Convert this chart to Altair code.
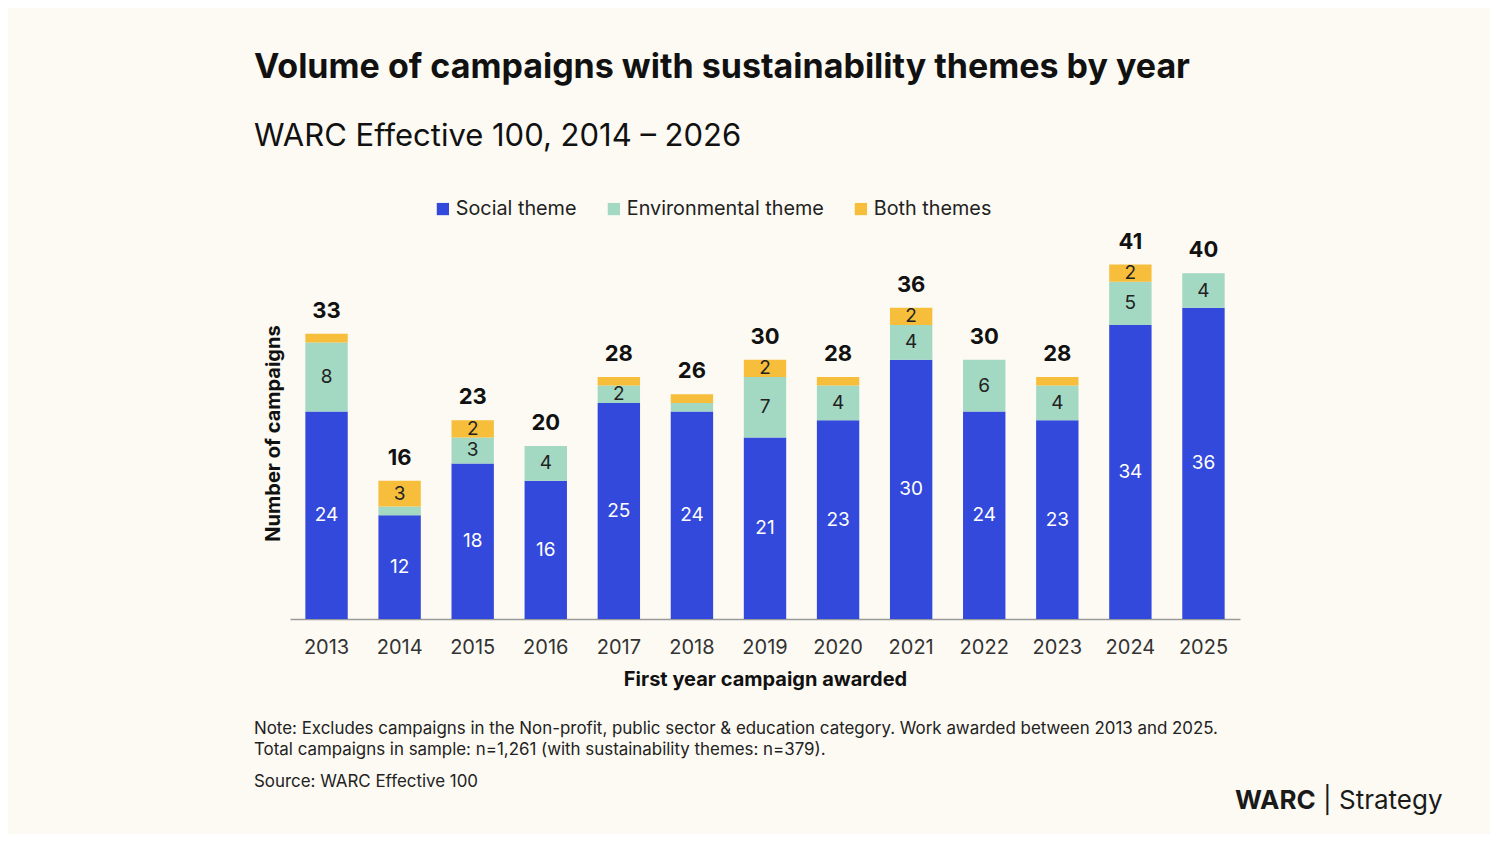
import altair as alt
import pandas as pd

# Campaign counts per award year
years = [str(y) for y in range(2013, 2026)]
social = [24, 12, 18, 16, 25, 24, 21, 23, 30, 24, 23, 34, 36]
environmental = [8, 1, 3, 4, 2, 1, 7, 4, 4, 6, 4, 5, 4]
both = [1, 3, 2, 0, 1, 1, 2, 1, 2, 0, 1, 2, 0]

themes = ["Social theme", "Environmental theme", "Both themes"]
colours = ["#3349DB", "#A3D8C2", "#F6BE3B"]

note_lines = [
    "Note: Excludes campaigns in the Non-profit, public sector & education category. Work awarded between 2013 and 2025.",
    "Total campaigns in sample: n=1,261 (with sustainability themes: n=379).",
]
source_line = "Source: WARC Effective 100"

FONT = "Inter"

rows = []
for i, yr in enumerate(years):
    for k, vals in enumerate([social, environmental, both]):
        rows.append({"year": yr, "theme": themes[k], "n": vals[i], "order": k})
df = pd.DataFrame(rows)

base = alt.Chart(df)
x_enc = alt.X(
    "year:N", sort=years,
    scale=alt.Scale(paddingInner=0.42, paddingOuter=0.21),
    axis=alt.Axis(
        title="First year campaign awarded", labelAngle=0, ticks=False,
        labelFontSize=20, labelColor="#333333", labelFont=FONT, labelPadding=18,
        domainColor="#9a9a9a", domainWidth=1.5,
        titleFontSize=20, titleFont=FONT, titleFontWeight="bold",
        titleColor="#111111", titlePadding=12,
    ),
)
y_scale = alt.Scale(domain=[0, 45])

bars = base.mark_bar().encode(
    x=x_enc,
    y=alt.Y(
        "sum(n):Q", stack="zero", scale=y_scale,
        axis=alt.Axis(
            title="Number of campaigns", labels=False, ticks=False, domain=False,
            grid=False, titleFontSize=20, titleFont=FONT, titleFontWeight="bold",
            titleColor="#111111", titlePadding=7, titleY=203,
        ),
    ),
    color=alt.Color(
        "theme:N", sort=themes, scale=alt.Scale(domain=themes, range=colours),
        legend=alt.Legend(
            title=None, orient="none", direction="horizontal",
            legendX=143, legendY=-31, symbolType="square", symbolSize=150,
            symbolStrokeWidth=0, labelFontSize=19.8, labelFont=FONT,
            labelColor="#222222", columnPadding=27, labelOffset=3, labelLimit=400,
        ),
    ),
    order=alt.Order("order:Q"),
)

seg_labels = base.transform_stack(
    stack="n", as_=["y0", "y1"], groupby=["year"],
    sort=[alt.SortField("order", order="ascending")],
).transform_calculate(
    mid="(datum.y0 + datum.y1) / 2"
).transform_filter(
    "datum.n >= 2"
).mark_text(fontSize=19, font=FONT).encode(
    x=alt.X("year:N", sort=years),
    y=alt.Y("mid:Q", scale=y_scale),
    text="n:Q",
    color=alt.condition("datum.theme == 'Social theme'", alt.value("white"), alt.value("#222222")),
)

totals = base.transform_aggregate(
    total="sum(n)", groupby=["year"]
).mark_text(fontSize=22, font=FONT, fontWeight="bold", dy=-23, color="#111111").encode(
    x=alt.X("year:N", sort=years),
    y=alt.Y("total:Q", scale=y_scale),
    text="total:Q",
)

dummy = alt.Chart(pd.DataFrame({"a": [0]}))
notes = dummy.mark_text(
    text=note_lines, align="left", baseline="top", fontSize=16.9, font=FONT,
    lineHeight=21, color="#222222",
).encode(x=alt.value(-36), y=alt.value(491))
source = dummy.mark_text(
    text=source_line, align="left", baseline="top", fontSize=16.9, font=FONT,
    color="#222222",
).encode(x=alt.value(-36), y=alt.value(544))
logo_a = dummy.mark_text(
    text="WARC", align="left", baseline="middle", fontSize=26, font=FONT,
    fontWeight="bold", color="#1a1a1a",
).encode(x=alt.value(945), y=alt.value(571))
logo_b = dummy.mark_text(
    text="| Strategy", align="left", baseline="middle", fontSize=26, font=FONT,
    color="#1a1a1a",
).encode(x=alt.value(1033), y=alt.value(571))

chart = alt.layer(bars, seg_labels, totals, notes, source, logo_a, logo_b).properties(
    width=950,
    height=389,
    autosize=alt.AutoSizeParams(type="none"),
    padding={"left": 282, "right": 250, "top": 222, "bottom": 215},
    background="#FCFAF3",
    title=alt.Title(
        "Volume of campaigns with sustainability themes by year",
        subtitle="WARC Effective 100, 2014 – 2026",
        anchor="start", frame="group", dx=-36, offset=47,
        font=FONT, fontSize=34, fontWeight="bold", color="#111111",
        subtitleFont=FONT, subtitleFontSize=31, subtitleColor="#111111",
        subtitlePadding=37,
    ),
).configure_view(stroke=None)

chart.save("out.html", embed_options={"renderer": "svg", "actions": False})
